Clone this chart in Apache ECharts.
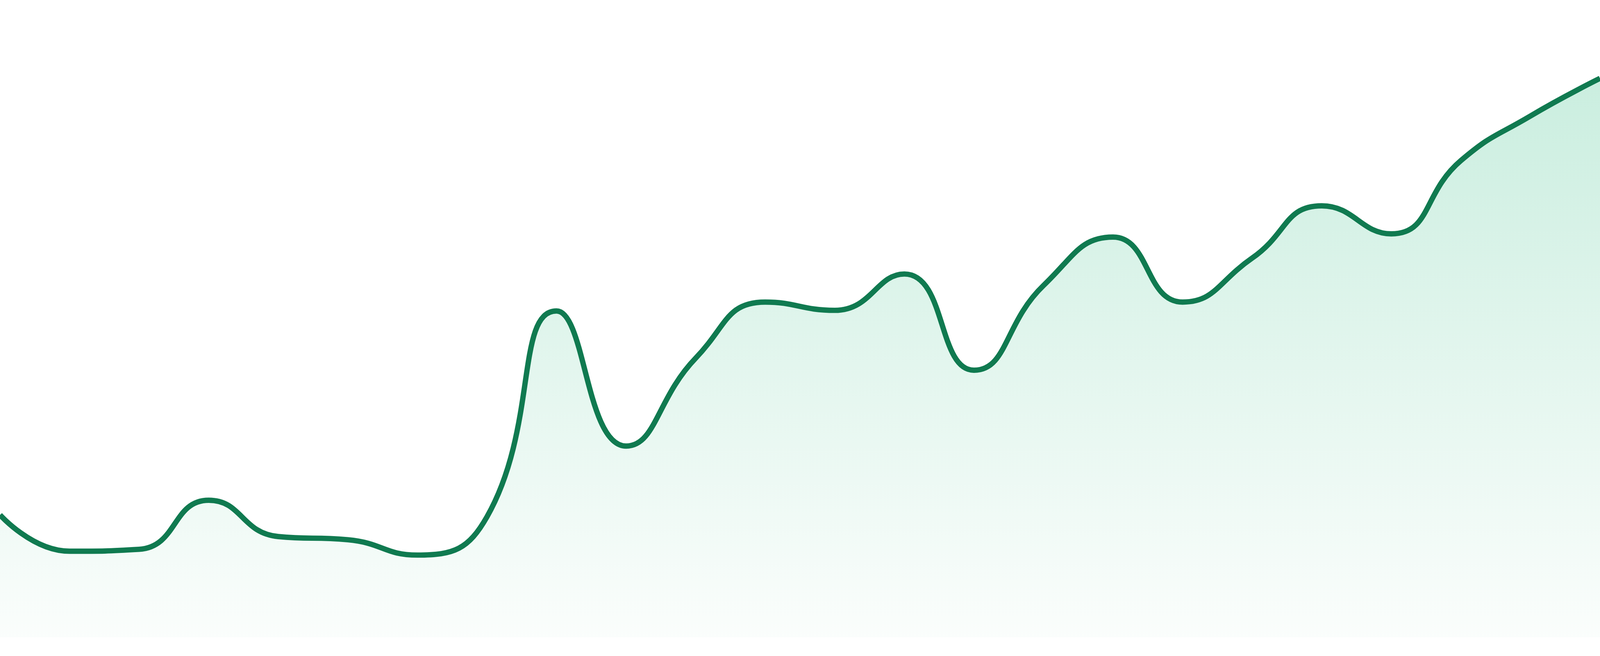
<!DOCTYPE html>
<html>
<head>
<meta charset="utf-8">
<title>Trend</title>
<script src="https://cdn.jsdelivr.net/npm/echarts@6/dist/echarts.min.js"></script>
<style>
  html, body { margin: 0; padding: 0; background: #fff; overflow: hidden; }
  #chart { width: 100vw; height: 100vh; }
</style>
</head>
<body>
<div id="chart"></div>
<script>
// 24 points
const categories = ['1', '2', '3', '4', '5', '6', '7', '8', '9', '10', '11', '12',
                    '13', '14', '15', '16', '17', '18', '19', '20', '21', '22', '23', '24'];
const values = [19.2, 13.5, 13.8, 21.5, 15.8, 15.3, 12.9, 18.9, 51.2, 30.0, 43.8, 52.6,
                51.3, 57.0, 41.9, 55.2, 62.8, 52.6, 59.5, 67.7, 63.3, 74.8, 81.8, 87.7];
const yMin = 0;
const yMax = 100;

// the picture is 4800px wide; scale the stroke to whatever css width we get
const k = window.innerWidth / 4800;

let myEchart = echarts.init(document.getElementById('chart'));
let option = {
    animation: false,
    grid: { left: 0, right: 0, top: 0, bottom: '2.857%' },
    xAxis: {
        type: 'category',
        data: categories,
        boundaryGap: false,
        show: false
    },
    yAxis: {
        type: 'value',
        min: yMin,
        max: yMax,
        show: false
    },
    series: [{
        type: 'line',
        data: values,
        smooth: true,
        symbol: 'none',
        lineStyle: { color: '#107a50', width: 16 * k },
        areaStyle: {
            color: new echarts.graphic.LinearGradient(0, 0, 0, 1, [
                { offset: 0, color: '#b3e6d1' },
                { offset: 1, color: '#f8fcfa' }
            ])
        }
    }]
};
myEchart.setOption(option);
</script>
</body>
</html>
